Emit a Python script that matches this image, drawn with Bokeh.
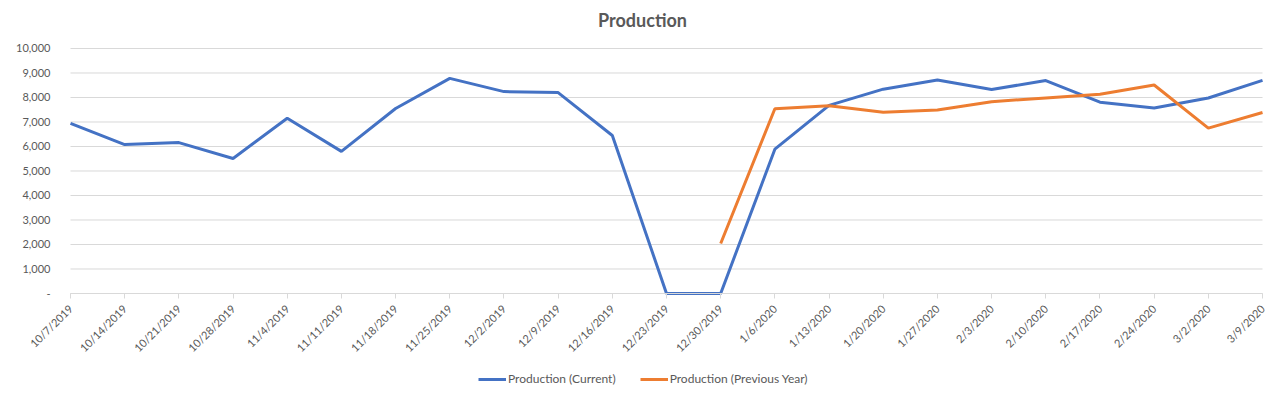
import math
from bokeh.plotting import figure
from bokeh.models import (FixedTicker, NumeralTickFormatter, Legend, LegendItem, Range1d,
                          ColumnDataSource, Label)
from bokeh.embed import file_html
from bokeh.resources import INLINE

dates = ["10/7/2019", "10/14/2019", "10/21/2019", "10/28/2019", "11/4/2019", "11/11/2019",
         "11/18/2019", "11/25/2019", "12/2/2019", "12/9/2019", "12/16/2019", "12/23/2019",
         "12/30/2019", "1/6/2020", "1/13/2020", "1/20/2020", "1/27/2020", "2/3/2020",
         "2/10/2020", "2/17/2020", "2/24/2020", "3/2/2020", "3/9/2020"]
current = [6940, 6080, 6160, 5510, 7150, 5800, 7550, 8780, 8240, 8200, 6450, 0, 0,
           5890, 7680, 8340, 8710, 8330, 8690, 7810, 7570, 7980, 8700]
previous_dates = dates[12:]
previous = [2040, 7540, 7660, 7400, 7490, 7830, 7980, 8130, 8510, 6750, 7390]
y_ticks = list(range(0, 10001, 1000))

FONT = "Lato"
GREY = "#595959"

x_cur = list(range(len(dates)))
x_prev = [dates.index(d) for d in previous_dates]
last = len(dates) - 1

# frame covers the whole canvas; axes are pinned at x=0 / y=0 inside it
p = figure(frame_width=1280, frame_height=396, output_backend="svg", toolbar_location=None,
           x_range=Range1d(-1.292, last + 0.332), y_range=Range1d(-4204, 11959),
           min_border_left=0, min_border_right=0, min_border_top=0, min_border_bottom=0)
p.outline_line_color = None

# horizontal gridlines spanning the category extent only
p.segment(x0=[0] * len(y_ticks), x1=[last] * len(y_ticks), y0=y_ticks, y1=y_ticks,
          line_color="#d9d9d9", line_width=1)

title = Label(x=642, y=377, x_units="screen", y_units="screen", text="Production",
              text_align="center", text_baseline="middle", text_font=FONT,
              text_font_size="18px", text_font_style="bold", text_color=GREY)
p.add_layout(title)

src_c = ColumnDataSource(dict(x=x_cur, y=current))
src_p = ColumnDataSource(dict(x=x_prev, y=previous))
r1 = p.line("x", "y", source=src_c, line_color="#4472C4", line_width=3)
r2 = p.line("x", "y", source=src_p, line_color="#ED7D31", line_width=3)

# x axis, fixed at value 0
p.xaxis.fixed_location = 0
p.xaxis.bounds = (0, last)
p.xaxis.ticker = FixedTicker(ticks=x_cur)
p.xaxis.major_label_overrides = {i: d for i, d in enumerate(dates)}
p.xaxis.major_label_orientation = math.pi / 4
p.xaxis.major_label_text_font = FONT
p.xaxis.major_label_text_font_size = "11px"
p.xaxis.major_label_text_color = GREY
p.xaxis.major_label_standoff = 8
p.xaxis.axis_line_color = "#d9d9d9"
p.xaxis.major_tick_line_color = "#d9d9d9"
p.xaxis.major_tick_out = 5
p.xaxis.major_tick_in = 0
p.xaxis.minor_tick_line_color = None
p.xgrid.grid_line_color = None

# y axis, fixed at the first category
p.yaxis.fixed_location = 0
p.yaxis.ticker = FixedTicker(ticks=y_ticks)
p.yaxis.formatter = NumeralTickFormatter(format="0,0")
p.yaxis.major_label_overrides = {0: "-"}
p.yaxis.major_label_text_font = FONT
p.yaxis.major_label_text_font_size = "11px"
p.yaxis.major_label_text_color = GREY
p.yaxis.major_label_standoff = 14
p.yaxis.axis_line_color = None
p.yaxis.major_tick_line_color = None
p.yaxis.minor_tick_line_color = None
p.ygrid.grid_line_color = None

legend = Legend(items=[LegendItem(label="Production (Current)", renderers=[r1]),
                       LegendItem(label="Production (Previous Year)", renderers=[r2])],
                orientation="horizontal", location=(478, 10),
                label_text_font=FONT, label_text_font_size="12px", label_text_color=GREY,
                border_line_color=None, background_fill_alpha=0,
                glyph_width=28, glyph_height=14, spacing=24, padding=2, margin=0,
                label_standoff=2)
p.add_layout(legend, "center")

open("out.html", "w").write(file_html(p, INLINE))
